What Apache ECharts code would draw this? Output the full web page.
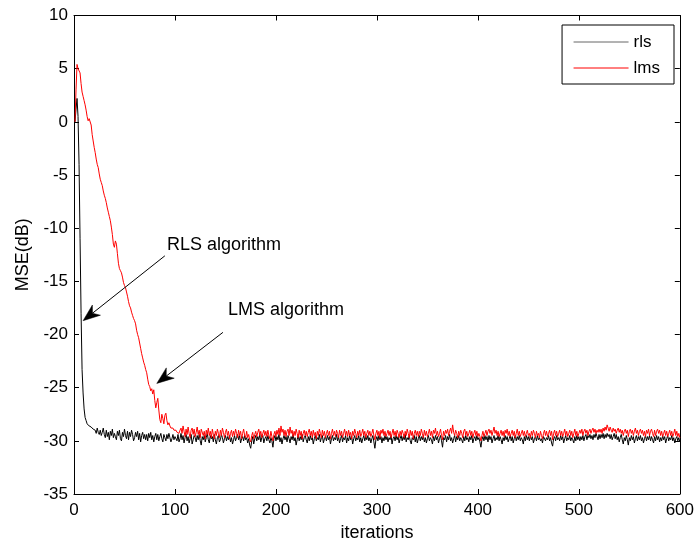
<!DOCTYPE html>
<html><head><meta charset="utf-8">
<script src="https://cdn.jsdelivr.net/npm/echarts@6/dist/echarts.min.js"></script>
<style>html,body{margin:0;padding:0;background:#fff}#c{width:697px;height:548px}</style>
</head><body><div id="c"></div>
<script>
// iteration index of the first value in each series
const iterStart = 1;
const seriesNames = ['rls', 'lms'];

// RLS MSE (dB), iterations 1..600
const rls = [
0,1.2,2.2,0.5,-4,-11,-18,-23.3,-25.5,-27,-27.8,-28.1,
-28.4,-28.3,-28.6,-28.5,-28.7,-28.6,-28.9,-28.8,-29.0,-29.3,-28.8,-29.2,-29.4,-29.0,-29.5,-29.2,-28.8,-29.4,
-29.7,-29.0,-29.6,-29.2,-29.9,-29.1,-29.5,-28.9,-29.7,-29.3,
-29.6,-29.9,-29.1,-29.5,-29.0,-29.8,-30.0,-29.2,-29.6,-28.9,
-29.5,-29.8,-29.1,-29.9,-29.2,-29.6,-29.0,-29.4,-30.0,-29.7,
-29.2,-29.6,-29.1,-29.9,-29.3,-30.1,-29.5,-29.2,-29.8,-29.4,
-29.9,-29.4,-30.0,-29.3,-29.7,-29.2,-29.9,-29.5,-30.1,-29.6,
-29.3,-29.9,-29.4,-30.0,-29.6,-29.3,-29.8,-30.1,-29.4,-29.7,
-30.0,-29.4,-29.8,-29.3,-29.7,-30.1,-29.8,-29.4,-29.9,-29.6,
-29.6,-30.0,-29.4,-30.1,-29.8,-29.3,-29.9,-29.5,-30.2,-29.7,
-29.4,-30.0,-29.6,-30.2,-29.8,-29.4,-30.3,-29.9,-29.5,-29.7,
-30.1,-29.5,-29.9,-29.4,-30.0,-30.4,-29.6,-29.9,-29.5,-30.1,
-29.7,-29.3,-29.9,-30.2,-29.5,-29.8,-29.6,-30.1,-29.4,-29.9,
-30.3,-29.7,-29.5,-30.1,-29.9,-29.4,-29.7,-30.2,-29.8,-29.5,
-30.0,-29.6,-29.9,-29.5,-30.1,-29.7,-30.3,-29.9,-29.5,-30.0,
-29.7,-29.4,-29.9,-29.5,-30.2,-29.8,-29.6,-30.0,-29.5,-29.9,
-29.7,-30.2,-29.8,-30.4,-30.7,-30.0,-29.6,-30.3,-29.8,-29.5,
-30.0,-29.6,-29.9,-29.4,-30.1,-29.7,-29.5,-30.2,-29.8,-29.6,
-30.0,-29.5,-29.9,-30.2,-29.7,-30.0,-30.6,-29.8,-29.5,-30.0,
-29.6,-29.9,-29.4,-30.1,-29.7,-30.3,-29.8,-29.5,-29.9,-29.6,
-30.1,-29.5,-29.8,-30.2,-29.6,-29.9,-29.4,-30.0,-29.7,-30.4,
-29.9,-29.5,-30.0,-29.6,-29.9,-29.4,-30.1,-29.7,-29.5,-29.9,
-30.2,-29.6,-30.0,-29.5,-29.9,-29.7,-30.3,-29.8,-29.5,-30.0,
-29.7,-29.9,-29.4,-30.1,-29.7,-29.5,-30.2,-29.8,-29.6,-30.0,
-29.5,-29.9,-29.6,-30.3,-29.8,-29.5,-30.0,-29.7,-29.9,-29.4,
-30.0,-29.6,-30.2,-29.8,-29.5,-30.1,-29.7,-29.9,-29.5,-30.2,
-29.7,-30.0,-29.5,-29.9,-29.6,-30.3,-29.8,-29.5,-30.0,-29.7,
-29.9,-29.5,-30.1,-29.7,-30.2,-29.8,-29.5,-30.0,-29.6,-29.9,
-29.5,-30.0,-29.7,-30.2,-29.8,-29.5,-30.1,-30.7,-29.9,-29.6,
-30.0,-29.5,-29.9,-29.6,-30.2,-29.7,-30.0,-29.5,-29.9,-29.6,
-30.1,-29.7,-29.9,-29.5,-30.3,-29.8,-29.6,-30.0,-29.5,-29.9,
-29.6,-30.2,-29.8,-29.5,-30.0,-29.6,-29.9,-29.4,-30.1,-29.7,
-29.9,-29.5,-30.0,-30.3,-29.7,-29.9,-29.5,-30.1,-29.6,-30.2,
-29.8,-29.5,-30.0,-29.6,-29.9,-29.5,-30.1,-29.7,-30.2,-29.8,
-29.5,-30.0,-29.7,-29.9,-30.3,-29.6,-30.0,-29.5,-29.9,-29.6,
-30.2,-29.8,-29.5,-30.0,-30.6,-29.7,-29.9,-29.5,-30.1,-29.6,
-29.9,-29.4,-30.0,-29.7,-30.2,-29.8,-29.5,-30.1,-29.6,-29.9,
-29.5,-30.0,-29.7,-29.9,-30.2,-29.6,-30.0,-29.5,-29.9,-29.7,
-30.1,-29.6,-29.9,-29.5,-30.2,-29.8,-29.6,-30.0,-29.5,-29.9,
-29.7,-30.1,-30.6,-29.9,-29.6,-30.0,-29.5,-29.9,-29.6,-30.1,
-29.5,-29.9,-29.6,-30.2,-29.8,-29.5,-30.0,-29.7,-29.9,-29.5,
-30.0,-29.6,-29.9,-30.3,-29.7,-30.0,-29.5,-29.9,-29.6,-30.1,
-29.8,-29.5,-30.0,-29.6,-30.2,-29.8,-29.5,-30.0,-29.6,-29.9,
-29.5,-30.0,-29.7,-29.9,-30.3,-29.6,-30.0,-29.5,-29.9,-29.6,
-30.0,-29.5,-29.9,-29.6,-30.2,-29.8,-29.6,-30.0,-29.5,-29.9,
-29.7,-30.0,-29.8,-30.2,-29.6,-29.5,-30.0,-29.7,-29.9,-29.5,
-30.0,-29.7,-30.2,-30.5,-29.8,-29.6,-30.0,-29.5,-29.9,-29.7,
-30.0,-29.5,-29.9,-29.6,-30.2,-29.8,-29.5,-30.0,-29.7,-29.9,
-29.5,-30.0,-29.7,-29.9,-30.2,-29.6,-30.0,-29.5,-29.9,-29.6,
-30.0,-29.6,-29.9,-29.5,-30.0,-29.6,-29.4,-29.9,-29.5,-29.7,
-29.4,-29.8,-29.5,-29.9,-29.4,-29.7,-29.3,-29.6,-29.9,-29.4,
-29.8,-29.4,-29.7,-29.3,-29.8,-29.4,-29.7,-29.3,-29.6,-29.4,
-29.8,-29.4,-29.9,-29.6,-29.3,-29.8,-29.4,-29.9,-29.6,-30.1,
-29.7,-29.4,-29.9,-30.3,-29.7,-30.0,-29.5,-29.9,-30.4,-29.7,
-30.0,-29.5,-29.9,-29.6,-30.2,-29.8,-29.5,-30.0,-29.6,-29.9,
-29.5,-30.0,-29.7,-30.2,-29.8,-29.5,-30.0,-29.6,-29.9,-29.5,
-30.0,-29.6,-29.9,-30.2,-29.6,-30.0,-29.5,-29.9,-29.6,-30.1,
-29.7,-30.0,-29.5,-29.9,-29.6,-30.2,-29.8,-29.5,-30.0,-29.7,
-29.9,-29.5,-30.0,-29.7,-30.2,-29.8,-29.6,-30.0,-29.7,-30.1
];

// LMS MSE (dB), iterations 1..600
const lms = [
0.0,3.0,5.4,5.0,5.1,4.6,3.6,2.8,2.4,2.0,
1.6,1.1,0.5,0.1,0.3,0.4,-0.3,-1.2,-1.8,-2.4,
-2.9,-3.5,-4.0,-4.3,-4.9,-5.4,-5.7,-6.0,-6.5,-6.9,
-7.2,-7.6,-8.1,-8.5,-8.9,-9.3,-9.9,-10.6,-11.5,-11.8,
-11.2,-11.5,-12.4,-13.3,-13.8,-14.0,-14.2,-14.6,-15.1,-15.4,
-15.6,-16.0,-16.4,-16.9,-17.3,-17.5,-17.9,-18.2,-18.5,-18.7,
-19.0,-19.6,-20.0,-20.3,-20.8,-21.3,-21.8,-22.2,-22.6,-22.9,
-23.3,-23.6,-24.2,-24.7,-24.9,-25.3,-25.1,-25.6,-25.2,-26.2,
-26.9,-26.4,-26.0,-27.1,-28.0,-28.3,-27.5,-27.9,-28.4,-27.6,
-27.4,-28.1,-28.5,-28.3,-28.6,-28.8,-28.9,-28.8,-29.0,-29.1,
-29.0,-29.2,-29.1,-29.3,-29.0,-28.8,-29.3,-28.6,-29.1,-29.6,
-28.9,-29.4,-28.7,-29.3,-29.7,-29.0,-28.8,-29.4,-28.9,-29.6,
-29.2,-28.7,-29.4,-29.0,-29.7,-28.9,-28.8,-29.5,-29.1,-29.8,
-29.0,-29.4,-28.8,-29.5,-29.1,-29.7,-28.9,-29.4,-29.8,-29.1,
-29.5,-28.9,-29.3,-29.7,-29.0,-29.5,-28.8,-29.2,-29.7,-29.2,
-28.9,-29.5,-29.1,-29.8,-29.3,-29.0,-29.6,-29.1,-29.5,-28.9,
-29.3,-29.7,-29.0,-29.5,-29.1,-29.8,-29.3,-28.9,-29.5,-29.7,
-29.1,-29.7,-29.4,-29.9,-30.1,-29.5,-29.2,-29.8,-29.4,-29.1,
-29.6,-29.2,-28.9,-29.5,-29.1,-29.7,-29.3,-29.0,-29.5,-29.1,
-29.6,-29.0,-29.5,-29.8,-29.1,-29.6,-30.0,-29.4,-29.1,-29.6,
-29.0,-29.4,-28.8,-29.5,-28.6,-29.2,-28.9,-29.5,-29.0,-29.6,
-29.1,-28.9,-29.5,-28.7,-29.3,-29.0,-29.6,-29.1,-29.5,-28.9,
-29.3,-29.7,-29.0,-29.5,-29.1,-29.8,-29.3,-29.0,-29.5,-29.1,
-29.6,-29.2,-28.9,-29.5,-29.1,-29.7,-29.0,-29.5,-29.2,-29.8,
-29.1,-29.5,-28.9,-29.3,-29.7,-29.0,-29.5,-29.1,-29.7,-29.3,
-29.0,-29.5,-29.1,-29.8,-29.3,-28.9,-29.5,-29.1,-29.6,-29.0,
-29.3,-29.7,-29.0,-29.5,-29.1,-29.7,-29.3,-28.9,-29.5,-29.1,
-29.6,-29.0,-29.5,-29.2,-29.8,-29.1,-29.5,-28.9,-29.3,-29.7,
-29.1,-29.5,-29.0,-29.6,-29.3,-28.9,-29.5,-29.1,-29.7,-29.3,
-29.0,-29.5,-29.1,-29.6,-29.3,-28.9,-29.5,-29.9,-29.3,-29.0,
-29.5,-29.1,-29.7,-29.0,-29.3,-28.9,-29.5,-29.1,-29.6,-29.3,
-29.0,-29.5,-29.1,-29.7,-29.3,-28.9,-29.5,-29.1,-29.6,-29.0,
-29.3,-29.7,-29.1,-29.5,-29.0,-29.3,-29.7,-29.1,-29.5,-28.9,
-29.3,-29.7,-29.0,-29.5,-29.1,-29.8,-29.3,-29.0,-29.5,-29.1,
-29.6,-29.1,-29.5,-28.9,-29.3,-29.7,-29.0,-29.5,-29.1,-29.6,
-29.3,-28.9,-29.5,-29.1,-29.7,-29.0,-29.3,-28.8,-29.5,-29.1,
-29.6,-29.3,-28.9,-29.5,-29.9,-29.1,-29.5,-29.0,-29.3,-28.9,
-29.5,-29.1,-28.8,-29.3,-28.5,-29.2,-29.5,-29.0,-29.3,-29.7,
-29.1,-29.5,-29.0,-29.3,-29.7,-29.1,-28.9,-29.5,-29.1,-29.6,
-29.3,-29.0,-29.5,-29.1,-29.7,-29.3,-29.0,-29.5,-29.1,-29.6,
-29.3,-29.6,-30.0,-29.5,-29.1,-29.6,-29.3,-29.0,-29.5,-29.1,
-28.9,-29.3,-29.0,-29.5,-29.1,-28.7,-29.3,-29.0,-29.5,-29.1,
-29.6,-29.3,-29.0,-29.5,-29.1,-29.6,-29.0,-29.3,-28.9,-29.5,
-29.1,-29.6,-29.3,-29.0,-29.5,-29.1,-29.7,-29.3,-28.9,-29.5,
-29.1,-29.6,-29.3,-29.0,-29.5,-29.1,-29.6,-29.3,-29.0,-29.5,
-29.3,-29.7,-29.1,-29.5,-29.0,-29.3,-29.7,-29.1,-29.5,-29.3,
-29.7,-29.1,-29.5,-29.8,-29.3,-29.0,-29.5,-29.1,-29.6,-29.3,
-29.0,-29.5,-29.1,-29.9,-29.3,-29.0,-29.5,-29.1,-29.6,-29.3,
-29.0,-29.5,-29.1,-29.6,-29.3,-28.9,-29.5,-29.1,-29.6,-29.3,
-29.0,-29.5,-29.1,-29.7,-29.3,-28.9,-29.5,-29.1,-29.6,-29.3,
-29.0,-29.3,-28.9,-29.5,-29.1,-28.9,-29.3,-29.0,-29.5,-29.1,
-28.9,-29.3,-29.0,-28.8,-29.2,-28.9,-29.3,-29.0,-29.2,-28.9,
-29.2,-28.9,-29.3,-28.8,-29.1,-28.7,-29.0,-28.5,-28.8,-29.1,
-28.7,-29.0,-29.2,-28.8,-29.1,-28.9,-29.3,-29.0,-28.8,-29.2,
-28.9,-29.3,-29.0,-29.5,-29.1,-28.9,-29.3,-29.0,-29.6,-29.1,
-28.9,-29.3,-29.0,-29.5,-29.1,-28.8,-29.3,-29.0,-29.5,-29.1,
-28.9,-29.3,-29.0,-29.5,-29.1,-29.6,-29.0,-29.3,-28.9,-29.5,
-29.1,-28.9,-29.3,-29.6,-29.0,-29.5,-29.1,-28.9,-29.3,-29.0,
-29.5,-29.1,-29.6,-29.3,-29.0,-29.5,-29.1,-29.6,-29.3,-29.0,
-29.5,-29.1,-29.6,-29.3,-28.9,-29.5,-29.1,-29.6,-29.3,-29.7
];

// axis ranges / ticks
const xRange = [0, 600], xStep = 100;
const yRange = [-35, 10], yStep = 5;
const xName = 'iterations', yName = 'MSE(dB)';

// annotations (data coordinates)
const notes = [
  { text: 'RLS algorithm', at: [92, -11.6], from: [90, -12.6], to: [9, -18.7] },
  { text: 'LMS algorithm', at: [152.5, -17.7], from: [147.5, -19.8], to: [82, -24.6] }
];

const FONT = "'Liberation Sans', Arial, Helvetica, sans-serif";
const FS = 17, FS_NAME = 18, FS_NOTE = 18;

const toPairs = arr => arr.map((v, i) => [i + iterStart, v]);

const axisCommon = {
  axisLine: { show: true, onZero: false, lineStyle: { color: '#000', width: 1 } },
  axisTick: { show: true, inside: true, length: 5, lineStyle: { color: '#000' } },
  splitLine: { show: false }
};
const labelStyle = { color: '#000', fontFamily: FONT, fontSize: FS };
const nameStyle = { color: '#000', fontFamily: FONT, fontSize: FS_NAME };

const chart = echarts.init(document.getElementById('c'), null, { renderer: 'canvas' });
chart.setOption({
  animation: false,
  backgroundColor: '#fff',
  grid: { left: 74, right: 17, top: 15.5, bottom: 54, containLabel: false },
  xAxis: [
    Object.assign({ type: 'value', min: xRange[0], max: xRange[1], interval: xStep, position: 'bottom',
      name: xName, nameLocation: 'middle', nameGap: 30, nameTextStyle: nameStyle,
      axisLabel: Object.assign({ margin: 8 }, labelStyle) }, axisCommon),
    Object.assign({ type: 'value', min: xRange[0], max: xRange[1], interval: xStep, position: 'top',
      axisLabel: { show: false } }, axisCommon)
  ],
  yAxis: [
    Object.assign({ type: 'value', min: yRange[0], max: yRange[1], interval: yStep, position: 'left',
      name: yName, nameLocation: 'middle', nameGap: 42, nameTextStyle: nameStyle,
      axisLabel: Object.assign({ margin: 6 }, labelStyle) }, axisCommon),
    Object.assign({ type: 'value', min: yRange[0], max: yRange[1], interval: yStep, position: 'right',
      axisLabel: { show: false } }, axisCommon)
  ],
  legend: {
    show: true,
    orient: 'vertical', right: 23, top: 25,
    padding: [7, 14, 6, 11], itemGap: 6, itemWidth: 55, itemHeight: 20,
    backgroundColor: '#fff', borderColor: '#000', borderWidth: 1, borderRadius: 0,
    textStyle: { color: '#000', fontFamily: FONT, fontSize: FS, lineHeight: 20, height: 20 },
    data: [
      { name: seriesNames[0], lineStyle: { color: '#666', width: 1 }, itemStyle: { opacity: 0 } },
      { name: seriesNames[1], lineStyle: { color: '#f00', width: 1 }, itemStyle: { opacity: 0 } }
    ]
  },
  series: [
    { name: seriesNames[0], type: 'line', data: toPairs(rls), symbol: 'none', showSymbol: false,
      lineStyle: { color: '#000', width: 1 }, itemStyle: { color: '#000' }, z: 2 },
    { name: seriesNames[1], type: 'line', data: toPairs(lms), symbol: 'none', showSymbol: false,
      lineStyle: { color: '#f00', width: 1 }, itemStyle: { color: '#f00' }, z: 3 }
  ]
});

function px(p) { return chart.convertToPixel({ xAxisIndex: 0, yAxisIndex: 0 }, p); }
const gfx = [];
notes.forEach(n => {
  const a = px(n.from), b = px(n.to), t = px(n.at);
  const dx = b[0] - a[0], dy = b[1] - a[1], len = Math.hypot(dx, dy);
  const ux = dx / len, uy = dy / len, nx = -uy, ny = ux;
  const L = 17, W = 6.5, notch = 5;
  const bx = b[0] - ux * L, by = b[1] - uy * L;
  const kx = b[0] - ux * (L - notch), ky = b[1] - uy * (L - notch);
  gfx.push({ type: 'line', shape: { x1: a[0], y1: a[1], x2: kx, y2: ky }, style: { stroke: '#000', lineWidth: 1 }, z: 10 });
  gfx.push({ type: 'polygon', shape: { points: [[b[0], b[1]], [bx + nx * W, by + ny * W], [kx, ky], [bx - nx * W, by - ny * W]] },
    style: { fill: '#000', stroke: '#000', lineWidth: 0.5 }, z: 10 });
  gfx.push({ type: 'text', x: t[0], y: t[1], style: { text: n.text, font: FS_NOTE + 'px ' + FONT, fill: '#000', verticalAlign: 'middle', align: 'left' }, z: 10 });
});
chart.setOption({ graphic: gfx });
</script>
</body></html>
